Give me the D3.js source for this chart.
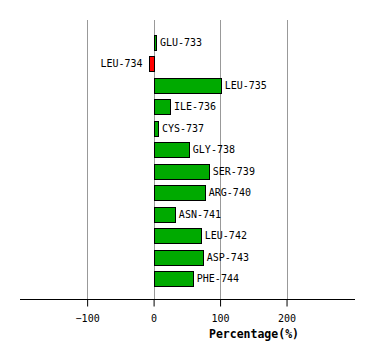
<!DOCTYPE html>
<html><head><meta charset="utf-8">
<script src="https://cdn.jsdelivr.net/npm/d3@7"></script>
<style>body{margin:0;background:#fff}</style>
</head><body>
<svg id="c" width="374" height="360"></svg>
<script>
const residues = ["GLU-733","LEU-734","LEU-735","ILE-736","CYS-737","GLY-738","SER-739","ARG-740","ASN-741","LEU-742","ASP-743","PHE-744"];
const values = [3.5, -7.5, 101, 24.5, 6.5, 53, 83, 77, 32, 71, 74, 59];
const tickValues = [-100, 0, 100, 200];
const axisTitle = "Percentage(%)";

const svg = d3.select("#c");
const x = d3.scaleLinear().domain([-201, 303]).range([20, 355]);
const y = d3.scaleBand().domain(residues).range([31.8, 289.2]).paddingInner(0.3).paddingOuter(0.15);
const font = "'DejaVu Sans Mono', monospace";

// gridlines
svg.append("g").selectAll("line").data(tickValues).join("line")
  .attr("x1", d => Math.round(x(d)) + 0.5).attr("x2", d => Math.round(x(d)) + 0.5)
  .attr("y1", 20).attr("y2", 299)
  .attr("stroke", "#999").attr("stroke-width", 1);

// bars
svg.append("g").selectAll("rect").data(residues).join("rect")
  .attr("x", (d, i) => Math.round(x(Math.min(0, values[i]))) + 0.5)
  .attr("y", d => Math.round(y(d)) + 0.5)
  .attr("width", (d, i) => Math.max(1, Math.round(Math.abs(x(values[i]) - x(0)))))
  .attr("height", Math.round(y.bandwidth()))
  .attr("fill", (d, i) => values[i] < 0 ? "#ff0000" : "#00aa00")
  .attr("stroke", "#000").attr("stroke-width", 1);

// labels
svg.append("g").selectAll("text").data(residues).join("text")
  .attr("x", (d, i) => values[i] < 0 ? x(values[i]) - 6 : x(values[i]) + 4)
  .attr("y", d => y(d) + y.bandwidth() / 2)
  .attr("dy", "0.35em")
  .attr("text-anchor", (d, i) => values[i] < 0 ? "end" : "start")
  .attr("font-family", font).attr("font-size", 10)
  .attr("fill", "#000")
  .text(d => d);

// axis
const axis = d3.axisBottom(x).tickValues(tickValues).tickSize(7).tickPadding(8).tickSizeOuter(0);
const ag = svg.append("g").attr("transform", "translate(0,299.5)").call(axis);
ag.select(".domain").attr("d", `M20,0H355`).attr("stroke", "#000");
ag.selectAll(".tick line").attr("stroke", "#000");
ag.selectAll(".tick text").attr("font-family", font).attr("font-size", 10).attr("fill", "#000");

svg.append("text")
  .attr("x", 254).attr("y", 338)
  .attr("text-anchor", "middle")
  .attr("font-family", font).attr("font-size", 11.5).attr("font-weight", "bold")
  .text(axisTitle);
</script>
</body></html>
